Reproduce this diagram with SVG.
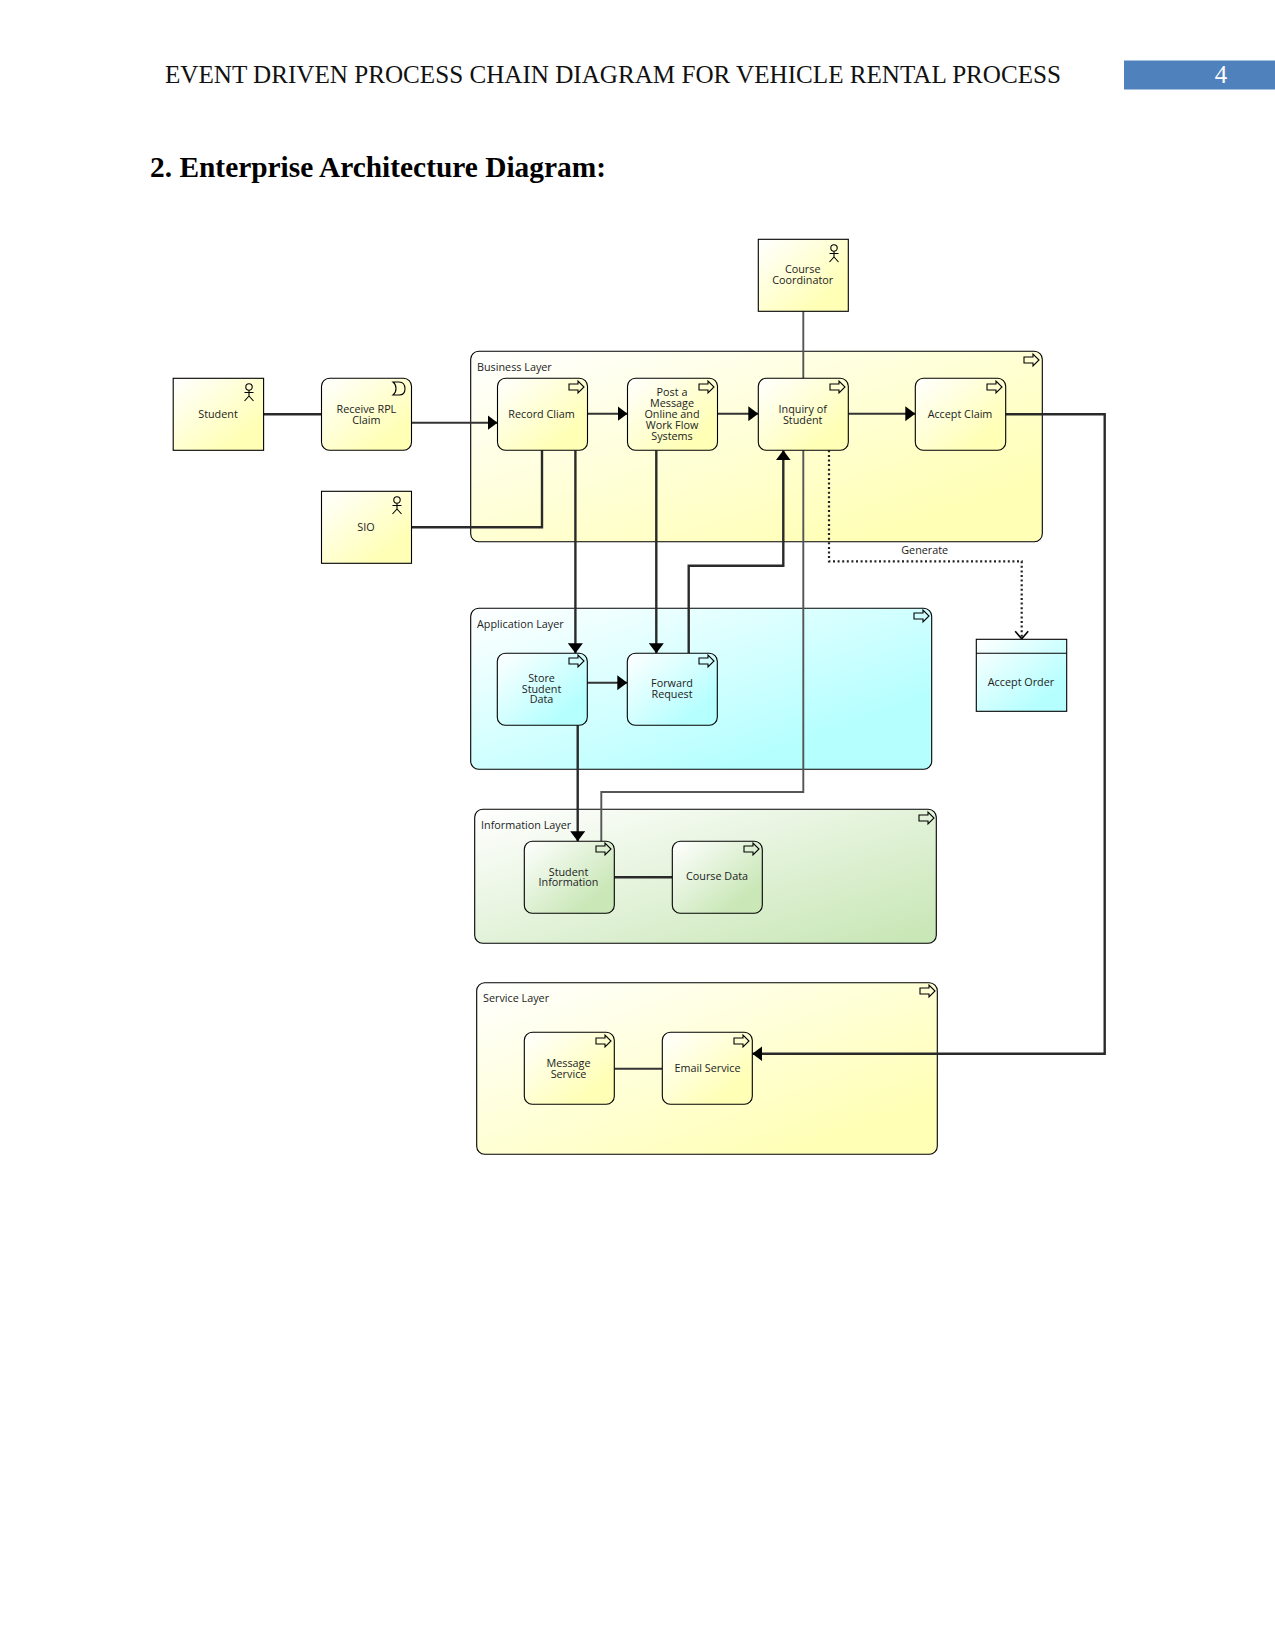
<svg xmlns="http://www.w3.org/2000/svg" width="1275" height="1650" viewBox="0 0 1275 1650">
<style>
.t{font-family:"Open Sans","Noto Sans",sans-serif;font-size:10.8px;fill:#222;text-anchor:middle}
.l{font-family:"Open Sans","Noto Sans",sans-serif;font-size:10.8px;fill:#222}
.n{stroke:#000;stroke-width:1.1}
.y{fill:url(#gy)}.c{fill:url(#gc)}.g{fill:url(#gg)}
.ly{fill:url(#gly)}.lc{fill:url(#glc)}.lg{fill:url(#glg)}
.w{fill:none;stroke:#2a2a2a;stroke-width:2.4}
.s{fill:none;stroke:#333;stroke-width:1.9}
.m{fill:none;stroke:#555;stroke-width:1.9}
.d{fill:none;stroke:#222;stroke-width:2.2;stroke-dasharray:2 2.6}
.i{fill:none;stroke:#000;stroke-width:1.1}
</style>
<defs>
<linearGradient id="gy" x1="0" y1="0" x2="1" y2="1"><stop offset="0" stop-color="#fff"/><stop offset="0.8" stop-color="#ffffb5"/></linearGradient>
<linearGradient id="gc" x1="0" y1="0" x2="1" y2="1"><stop offset="0" stop-color="#fff"/><stop offset="0.8" stop-color="#b5ffff"/></linearGradient>
<linearGradient id="gg" x1="0" y1="0" x2="1" y2="1"><stop offset="0" stop-color="#fff"/><stop offset="0.8" stop-color="#c9e7b7"/></linearGradient>
<linearGradient id="gly" x1="0" y1="0" x2="1" y2="1"><stop offset="0" stop-color="#fff"/><stop offset="0.85" stop-color="#ffffb5"/></linearGradient>
<linearGradient id="glc" x1="0" y1="0" x2="1" y2="1"><stop offset="0" stop-color="#fff"/><stop offset="0.78" stop-color="#b5ffff"/></linearGradient>
<linearGradient id="glg" x1="0" y1="0" x2="1" y2="1"><stop offset="0" stop-color="#fff"/><stop offset="0.95" stop-color="#c9e7b7"/></linearGradient>
<path id="pr" class="i" d="M-15 -3H-6V-6L0 0L-6 6V3H-15Z"/>
<g id="actor" class="i"><circle cx="0" cy="-6" r="3.2"/><path d="M0 -2.800V3M-4.500 -0.500H4.500M-4.500 8L0 3L4.500 8"/></g>
<path id="ev" class="i" d="M-6 -7H0C5 -7 6 -3 6 0C6 3 5 6 0 6H-6C-2 3 -2 -4 -6 -7Z"/>
<marker id="ah" markerUnits="userSpaceOnUse" markerWidth="11" markerHeight="15" refX="10" refY="7.500" orient="auto"><path d="M0 0L10 7.500L0 15Z" fill="#000"/></marker>
<marker id="oa" markerUnits="userSpaceOnUse" markerWidth="14" markerHeight="16" refX="9" refY="8" orient="auto"><path d="M1 1.500L8.500 8L1 14.500" fill="none" stroke="#000" stroke-width="1.600"/></marker>
</defs>
<rect width="1275" height="1650" fill="#fff"/>
<g id="page-header">
<text x="165" y="83" font-family="'Liberation Serif',serif" font-size="25" textLength="896" lengthAdjust="spacingAndGlyphs" fill="#111">EVENT DRIVEN PROCESS CHAIN DIAGRAM FOR VEHICLE RENTAL PROCESS</text>
<rect x="1124" y="60.500" width="151" height="29" fill="#4f81bd"/>
<text x="1221" y="83" font-family="'Liberation Serif',serif" font-size="25" fill="#fff" text-anchor="middle">4</text>
<text x="150" y="177" font-family="'Liberation Serif',serif" font-size="29" font-weight="bold" textLength="456" lengthAdjust="spacingAndGlyphs" fill="#000">2. Enterprise Architecture Diagram:</text>
</g>
<g id="layers">
<g id="business-layer"><rect class="n ly" x="470.700" y="351.300" width="571.600" height="190.400" rx="8"/><text class="l" x="477" y="371">Business Layer</text><use href="#pr" x="1039" y="360"/></g>
<g id="application-layer"><rect class="n lc" x="470.700" y="608.300" width="461" height="161" rx="8"/><text class="l" x="477" y="628">Application Layer</text><use href="#pr" x="929" y="616"/></g>
<g id="information-layer"><rect class="n lg" x="474.700" y="809.300" width="461.600" height="134" rx="8"/><text class="l" x="481" y="829">Information Layer</text><use href="#pr" x="934" y="818"/></g>
<g id="service-layer"><rect class="n ly" x="476.700" y="982.700" width="460.600" height="171.600" rx="8"/><text class="l" x="483" y="1002">Service Layer</text><use href="#pr" x="935" y="991"/></g>
</g>
<g id="connectors">
<path class="w" d="M263.600 414.300H321.500"/>
<path class="s" d="M411.500 422.700H497.500" marker-end="url(#ah)"/>
<path class="w" d="M411.500 527.300H542V450.300"/>
<path class="w" d="M575.400 450.300V653.300" marker-end="url(#ah)"/>
<path class="s" d="M587.500 413.700H627.500" marker-end="url(#ah)"/>
<path class="w" d="M656.300 450.300V653.300" marker-end="url(#ah)"/>
<path class="s" d="M717.500 413.700H758.300" marker-end="url(#ah)"/>
<path class="s" d="M848.300 413.700H915.300" marker-end="url(#ah)"/>
<path class="w" d="M688.700 653.300V565.700H783.300V450.300" marker-end="url(#ah)"/>
<path class="m" d="M803.300 311.300V378.300"/>
<path class="m" d="M803.300 450.300V792H601.300V841.300"/>
<path class="w" d="M577.700 725.300V841.300" marker-end="url(#ah)"/>
<path class="s" d="M587.300 682.700H627.300" marker-end="url(#ah)"/>
<path class="w" d="M614.300 877.300H672.300"/>
<path class="s" d="M614.300 1068.700H662.300"/>
<path class="w" d="M1005.700 414.300H1104.700V1053.700H752.300" marker-end="url(#ah)"/>
<path class="d" d="M829 450.300V561.300H1021.700V639.300" marker-end="url(#oa)"/>
<text class="t" x="924.700" y="554">Generate</text>
</g>
<g id="student"><rect class="n y" x="173.200" y="378.300" width="90.400" height="72"/><use href="#actor" x="249" y="393"/><text class="t" x="218" y="418">Student</text></g>
<g id="receive-rpl-claim"><rect class="n y" x="321.500" y="378.300" width="90" height="72" rx="8"/><use href="#ev" x="399" y="389"/><text class="t" x="366.400" y="413">Receive RPL</text><text class="t" x="366.400" y="423.500">Claim</text></g>
<g id="sio"><rect class="n y" x="321.500" y="491.300" width="90" height="72"/><use href="#actor" x="397" y="506"/><text class="t" x="366" y="531">SIO</text></g>
<g id="record-claim"><rect class="n y" x="497.500" y="378.300" width="90" height="72" rx="8"/><use href="#pr" x="584" y="387"/><text class="t" x="541.500" y="418">Record Cliam</text></g>
<g id="post-message"><rect class="n y" x="627.500" y="378.300" width="90" height="72" rx="8"/><use href="#pr" x="714" y="387"/><text class="t" x="672" y="396">Post a</text><text class="t" x="672" y="407">Message</text><text class="t" x="672" y="418">Online and</text><text class="t" x="672" y="428.700">Work Flow</text><text class="t" x="672" y="439.500">Systems</text></g>
<g id="inquiry-of-student"><rect class="n y" x="758.300" y="378.300" width="90" height="72" rx="8"/><use href="#pr" x="845" y="387"/><text class="t" x="802.700" y="413">Inquiry of</text><text class="t" x="802.700" y="423.500">Student</text></g>
<g id="accept-claim"><rect class="n y" x="915.300" y="378.300" width="90.400" height="72" rx="8"/><use href="#pr" x="1002" y="387"/><text class="t" x="960" y="418">Accept Claim</text></g>
<g id="course-coordinator"><rect class="n y" x="758.300" y="239.300" width="90" height="72"/><use href="#actor" x="834" y="254"/><text class="t" x="802.700" y="273">Course</text><text class="t" x="802.700" y="284">Coordinator</text></g>
<g id="store-student-data"><rect class="n c" x="497.300" y="653.300" width="90" height="72" rx="8"/><use href="#pr" x="584" y="661"/><text class="t" x="541.500" y="682">Store</text><text class="t" x="541.500" y="692.500">Student</text><text class="t" x="541.500" y="703">Data</text></g>
<g id="forward-request"><rect class="n c" x="627.300" y="653.300" width="90" height="72" rx="8"/><use href="#pr" x="714" y="661"/><text class="t" x="672" y="687">Forward</text><text class="t" x="672" y="698">Request</text></g>
<g id="accept-order"><rect class="n c" x="976.300" y="639.300" width="90.400" height="72"/><path class="n" d="M976.300 653.300H1066.700"/><text class="t" x="1021" y="686">Accept Order</text></g>
<g id="student-information"><rect class="n g" x="524.300" y="841.300" width="90" height="72" rx="8"/><use href="#pr" x="611" y="849"/><text class="t" x="568.500" y="875.500">Student</text><text class="t" x="568.500" y="886">Information</text></g>
<g id="course-data"><rect class="n g" x="672.300" y="841.300" width="90" height="72" rx="8"/><use href="#pr" x="759" y="849"/><text class="t" x="717" y="880">Course Data</text></g>
<g id="message-service"><rect class="n y" x="524.300" y="1032.300" width="90" height="72" rx="8"/><use href="#pr" x="611" y="1041"/><text class="t" x="568.500" y="1067">Message</text><text class="t" x="568.500" y="1077.500">Service</text></g>
<g id="email-service"><rect class="n y" x="662.300" y="1032.300" width="90" height="72" rx="8"/><use href="#pr" x="749" y="1041"/><text class="t" x="707.500" y="1072">Email Service</text></g>
</svg>
